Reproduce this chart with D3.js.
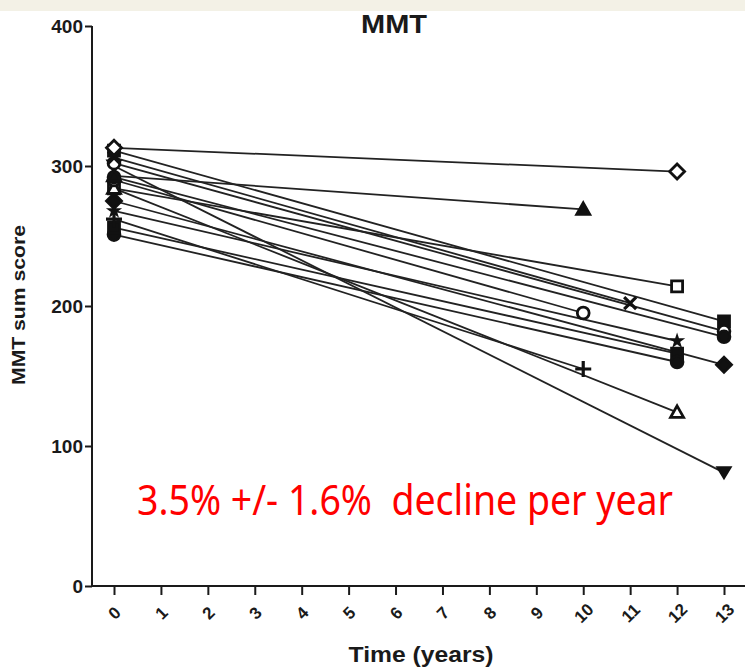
<!DOCTYPE html>
<html>
<head>
<meta charset="utf-8">
<script src="https://cdn.jsdelivr.net/npm/d3@7"></script>
<style>
  html, body { margin: 0; padding: 0; background: #fff; }
  svg { display: block; }
</style>
</head>
<body>
<div id="chart"></div>
<script>
// MMT sum score per patient: first visit at year 0, follow-up at endYear
var patients = ["P1", "P2", "P3", "P4", "P5", "P6", "P7", "P8", "P9", "P10", "P11", "P12", "P13", "P14", "P15"];
var startScore = [313, 293, 284, 306, 290, 311, 302, 292, 268, 256, 251, 275, 262, 284, 300];
var endYear    = [12, 10, 12, 11, 10, 13, 13, 13, 12, 12, 12, 13, 10, 12, 13];
var endScore   = [296, 269, 214, 202, 195, 189, 182, 178, 175, 166, 160, 158, 155, 124, 81];
var xTicks = [0, 1, 2, 3, 4, 5, 6, 7, 8, 9, 10, 11, 12, 13];
var yTicks = [0, 100, 200, 300, 400];

// marker per patient (shape, filled)
var markers = [
  ["diamond", false], ["triangle", true], ["square", false], ["times", true],
  ["circle", false], ["square", true], ["circle", false], ["circle", true],
  ["star", true], ["square", true], ["circle", true], ["diamond", true],
  ["plus", true], ["triangle", false], ["triangleDown", true]
];

var W = 745, H = 667;
var svg = d3.select("#chart").append("svg").attr("width", W).attr("height", H);

// faint beige strip at the top of the screenshot
svg.append("rect").attr("x", 0).attr("y", 0).attr("width", W).attr("height", 11).attr("fill", "#f3f1e6");

var x = d3.scaleLinear().domain([0, 13]).range([114, 724]);
var y = d3.scaleLinear().domain([0, 400]).range([586, 26]);
var ink = "#1a1a1a";
var font = "'Liberation Sans', Arial, sans-serif";

// Title
svg.append("text")
  .attr("x", 394).attr("y", 33)
  .attr("text-anchor", "middle")
  .attr("font-family", font).attr("font-weight", "bold").attr("font-size", 25)
  .attr("textLength", 66).attr("lengthAdjust", "spacingAndGlyphs")
  .attr("fill", ink)
  .text("MMT");

// Y axis
var yAxis = svg.append("g")
  .attr("transform", "translate(92,0)")
  .call(d3.axisLeft(y).tickValues(yTicks).tickSize(7).tickPadding(2).tickFormat(d3.format("d")));
yAxis.select(".domain").attr("stroke", ink).attr("stroke-width", 2).attr("d", "M0," + y(400) + "V" + y(0));
yAxis.selectAll(".tick line").attr("stroke", ink).attr("stroke-width", 2);
yAxis.selectAll(".tick text")
  .attr("font-family", font).attr("font-weight", "bold").attr("font-size", 19)
  .attr("fill", ink);

svg.append("text")
  .attr("transform", "translate(25,305) rotate(-90)")
  .attr("text-anchor", "middle")
  .attr("font-family", font).attr("font-weight", "bold").attr("font-size", 18)
  .attr("textLength", 160).attr("lengthAdjust", "spacingAndGlyphs")
  .attr("fill", ink)
  .text("MMT sum score");

// X axis
var xAxis = svg.append("g")
  .attr("transform", "translate(0," + y(0) + ")")
  .call(d3.axisBottom(x).tickValues(xTicks).tickSize(9).tickFormat(d3.format("d")));
xAxis.select(".domain").attr("stroke", ink).attr("stroke-width", 2).attr("d", "M92,0H745");
xAxis.selectAll(".tick line").attr("stroke", ink).attr("stroke-width", 2);
xAxis.selectAll(".tick text")
  .attr("font-family", font).attr("font-weight", "bold").attr("font-size", 17)
  .attr("fill", ink)
  .attr("text-anchor", "middle")
  .attr("y", 0)
  .attr("dy", "0.35em")
  .attr("transform", "translate(0,27) rotate(-45)");

svg.append("text")
  .attr("x", 421).attr("y", 662)
  .attr("text-anchor", "middle")
  .attr("font-family", font).attr("font-weight", "bold").attr("font-size", 22)
  .attr("textLength", 145).attr("lengthAdjust", "spacingAndGlyphs")
  .attr("fill", ink)
  .text("Time (years)");

// Lines
var g = svg.append("g");
patients.forEach(function (p, i) {
  g.append("line")
    .attr("x1", x(0)).attr("y1", y(startScore[i]))
    .attr("x2", x(endYear[i])).attr("y2", y(endScore[i]))
    .attr("stroke", "#222").attr("stroke-width", 1.8);
});

function markerPath(kind) {
  var s;
  switch (kind) {
    case "diamond": s = 7.5; return "M0," + -s + "L" + s + ",0L0," + s + "L" + -s + ",0Z";
    case "square": s = 5.5; return "M" + -s + "," + -s + "H" + s + "V" + s + "H" + -s + "Z";
    case "triangle": return "M0,-6.5L6.5,5L-6.5,5Z";
    case "triangleDown": return "M0,5L6,-5L-6,-5Z";
    case "circle": return d3.symbol(d3.symbolCircle, 110)();
    case "star": return d3.symbol(d3.symbolStar, 18)();
    case "plus": s = 8; return "M" + -s + ",0H" + s + "M0," + -s + "V" + s;
    case "times": s = 6; return "M" + -s + "," + -s + "L" + s + "," + s + "M" + s + "," + -s + "L" + -s + "," + s;
  }
}

function drawMarker(t, v, m) {
  var kind = m[0], filled = m[1];
  var stroky = kind === "plus" || kind === "times";
  g.append("path")
    .attr("transform", "translate(" + x(t) + "," + y(v) + ")")
    .attr("d", markerPath(kind))
    .attr("fill", stroky ? "none" : (filled ? "#111" : "#fff"))
    .attr("stroke", "#111")
    .attr("stroke-width", stroky ? 3.2 : 2.8);
}

// start markers drawn from the bottom up so the top diamond is visible
d3.range(patients.length).sort(function (a, b) { return startScore[a] - startScore[b]; })
  .forEach(function (i) { drawMarker(0, startScore[i], markers[i]); });
patients.forEach(function (p, i) { drawMarker(endYear[i], endScore[i], markers[i]); });

// Annotation
svg.append("text")
  .attr("x", 137).attr("y", 515)
  .attr("font-family", "'Noto Sans', 'Open Sans', sans-serif")
  .attr("font-size", 41)
  .attr("fill", "#ff0000")
  .attr("textLength", 536)
  .attr("lengthAdjust", "spacingAndGlyphs")
  .style("white-space", "pre")
  .text("3.5% +/- 1.6%  decline per year");
</script>
</body>
</html>
